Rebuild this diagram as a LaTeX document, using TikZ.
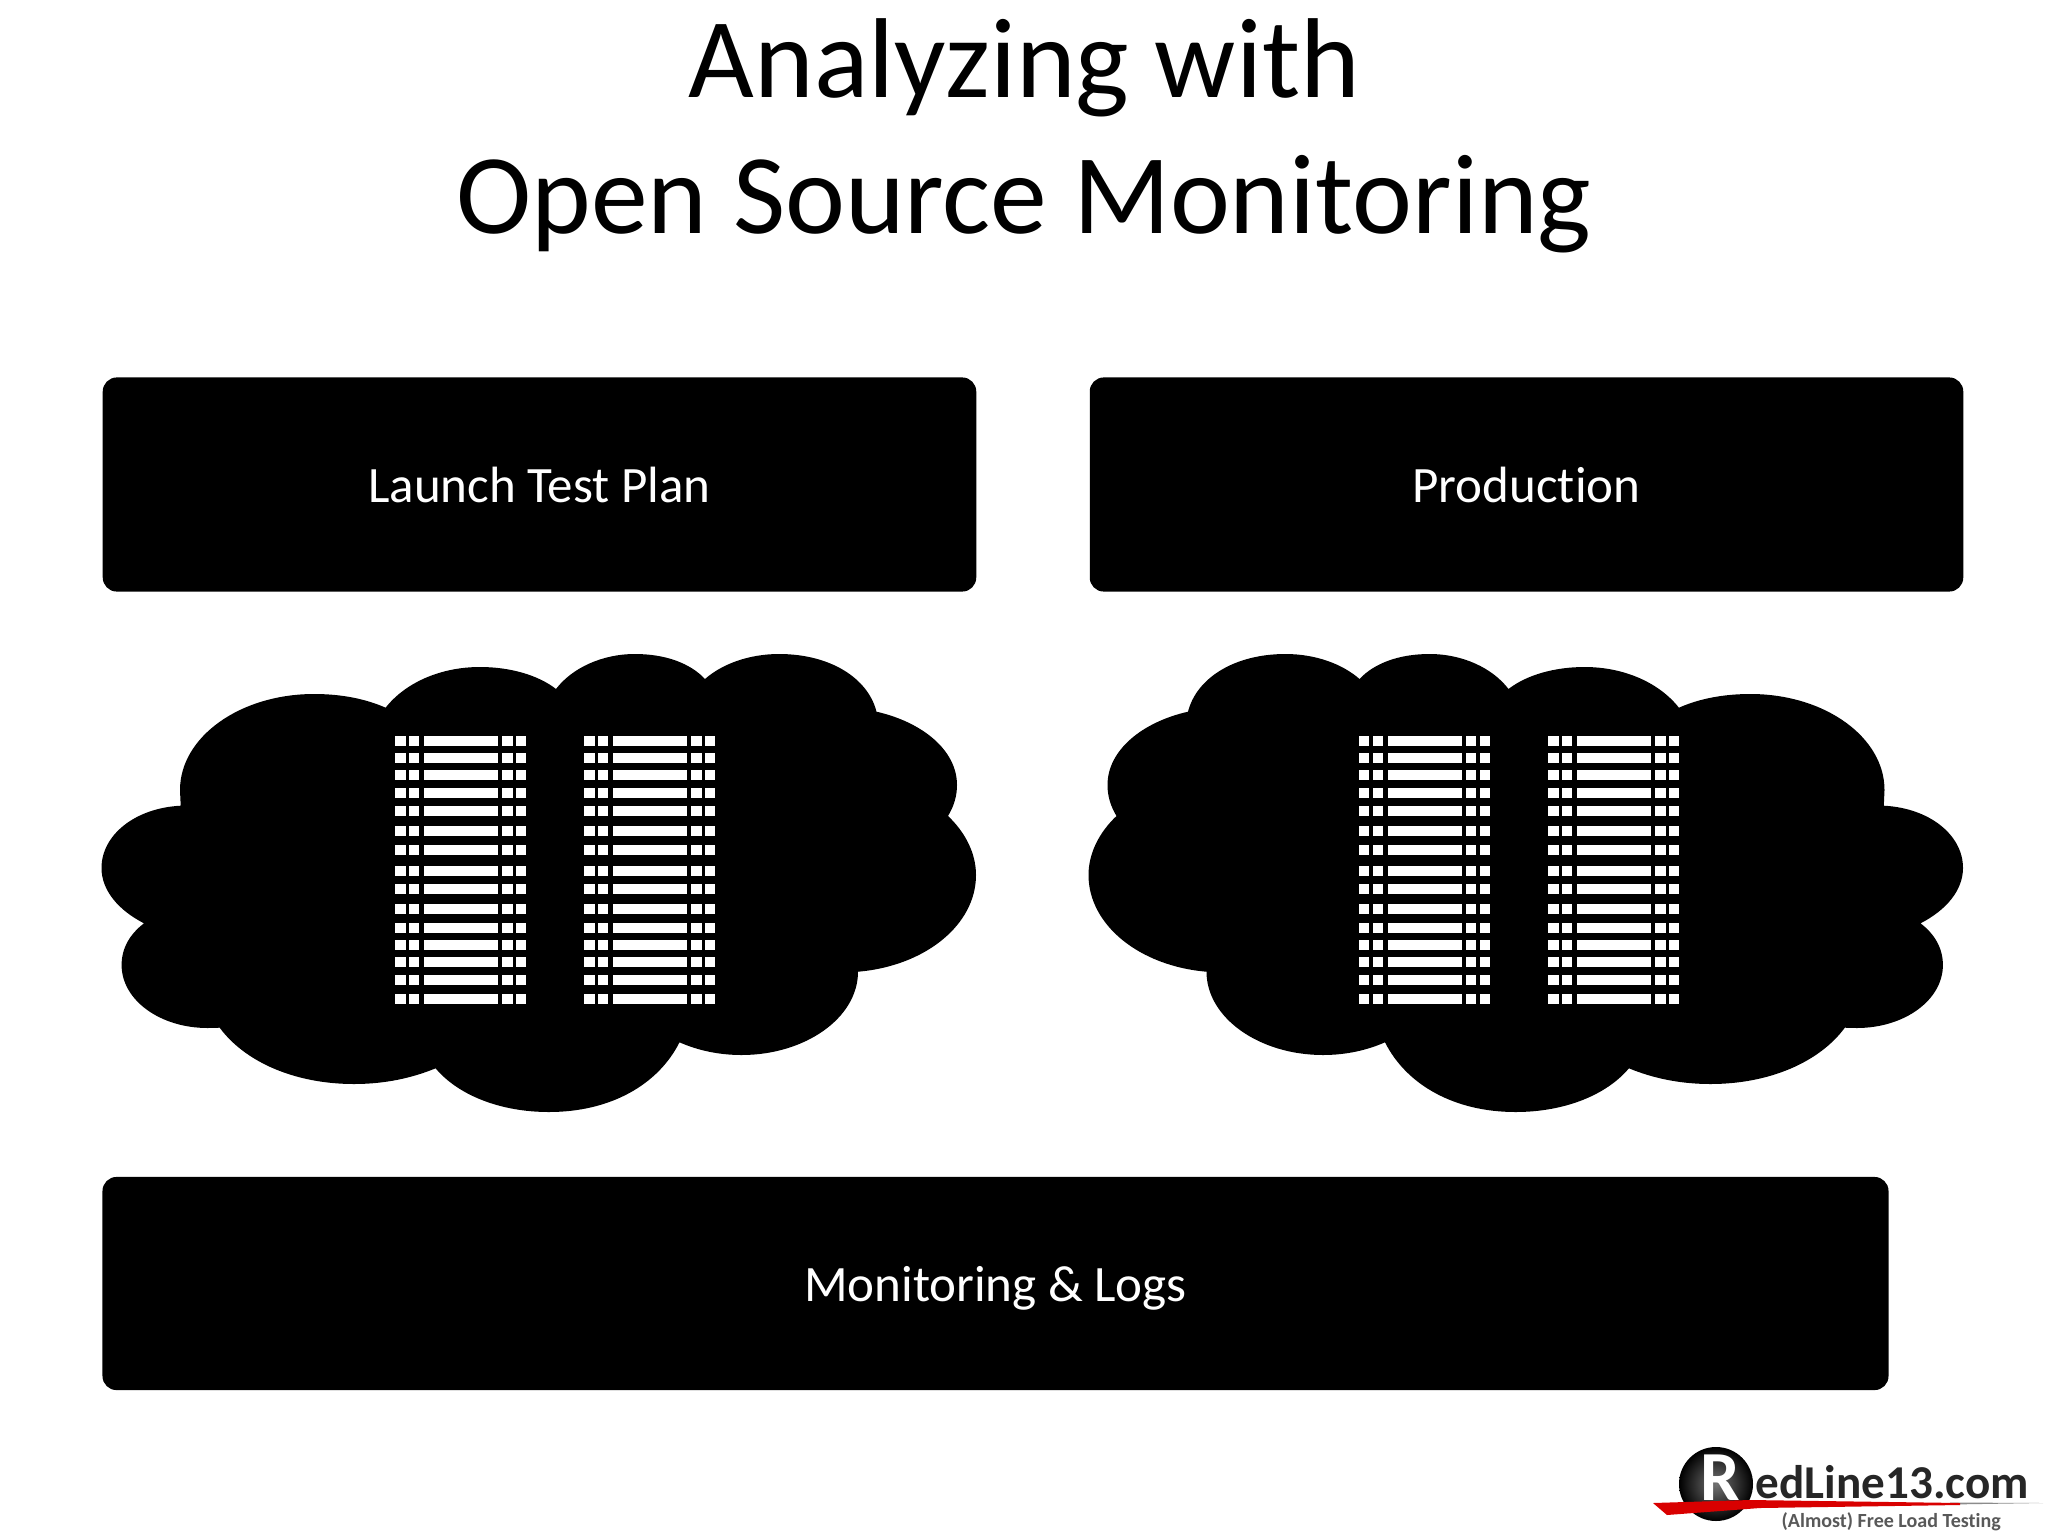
\documentclass[tikz,border=0pt]{standalone}
\usepackage{fontspec}
\setmainfont[Ligatures=NoCommon]{Carlito}
\newcommand{\cloudshape}{%
  \fill[black] (180.7,805.7) -- (180,790)
   .. controls (180,737) and (240,694) .. (314,694)
   .. controls (342,694) and (366,699) .. (385.6,707.7)
   .. controls (405,683) and (440,667) .. (480,667)
   .. controls (510,667) and (538,675) .. (556,689)
   .. controls (572,668) and (602,654) .. (635,654)
   .. controls (665,654) and (690,663) .. (705,679)
   .. controls (722,664) and (749,654) .. (779,654)
   .. controls (830,654) and (868,678) .. (876.5,711.7)
   .. controls (922,722) and (957,750) .. (957,785)
   .. controls (957,796) and (954,806) .. (948,816)
   .. controls (965,832) and (976,853) .. (976,875)
   .. controls (976,925) and (925,966) .. (858,971.7)
   .. controls (858,1018) and (805,1055) .. (741.5,1055)
   .. controls (718,1055) and (697,1050) .. (679.5,1042.3)
   .. controls (658,1085) and (610,1112) .. (549,1112)
   .. controls (500,1112) and (458,1095) .. (435.6,1068.3)
   .. controls (412,1078) and (385,1084) .. (354,1084)
   .. controls (295,1084) and (245,1062) .. (219.7,1027.7)
   -- (207.7,1028)
   .. controls (160,1028) and (121.6,1000) .. (121.6,965)
   .. controls (121.6,948) and (130,934) .. (144,923.3)
   .. controls (118,910) and (101.5,890) .. (101.5,868)
   .. controls (101.5,835) and (135,808) .. (180.7,805.7) -- cycle;}
\newcommand{\serverrack}[1]{%
  \begin{scope}[shift={(#1,0)}]
  \foreach \yy in {741.3,757.7,774.7,792.7,811.3,830.7,850.3,870.7,889.3,909,928.3,944.7,961.7,980,998.7}{
    \foreach \xa/\xb in {0/10.4,13.5/23.7,28.9/102.7,106.9/117.2,120.5/130.7}{
      \fill[white] (\xa,\yy-5) rectangle (\xb,\yy+5);
    }
  }
  \end{scope}}
\tikzset{
  panel/.style={fill=black,text=white,rounded corners=0.14cm,inner sep=0pt,text depth=0pt,font=\fontsize{14.5}{18}\selectfont},
  titletext/.style={text=black,inner sep=0pt,anchor=base,font=\fontsize{32.3}{40}\selectfont}
}
\begin{document}
\begin{tikzpicture}[x=0.01cm,y=-0.01cm]
\useasboundingbox (0,0) rectangle (2048,1536);
\fill[white] (0,0) rectangle (2048,1536);
\node[titletext] (t1) at (1024.5,97) {Analyzing with};
\node[titletext] (t2) at (1024,233) {Open Source Monitoring};
\node[panel,minimum width=8.73cm,minimum height=2.14cm] (launch) at (539.5,484.5) {Launch Test Plan};
\node[panel,minimum width=8.73cm,minimum height=2.14cm] (prod) at (1526.5,484.5) {Production};
\node[panel,minimum width=17.85cm,minimum height=2.13cm] (mon) at (995.5,1283.5) {Monitoring \& Logs};
\cloudshape
\begin{scope}[shift={(2064.5,0)},xscale=-1]
\cloudshape
\end{scope}
\serverrack{395.3}
\serverrack{584.3}
\serverrack{1359}
\serverrack{1548.3}
% logo
\shade[inner color=black!55,outer color=black] (1716,1484) circle (37);
\node[text=white,inner sep=0pt,font=\fontsize{20}{20}\selectfont\bfseries] (logoR) at (1720,1478) {R};
\fill[black!45] (1950,1502.5) -- (2043,1503) -- (1950,1504.5) -- cycle;
\fill[red!85!black] (1653,1503) -- (1750,1500) -- (1960,1503) -- (1960,1505) -- (1760,1508) -- (1667,1515) -- cycle;
\node[anchor=base west,inner sep=0pt,text=black!85,font=\fontsize{13.4}{14}\selectfont\bfseries] (logoT) at (1755,1498) {edLine13.com};
\node[anchor=base west,inner sep=0pt,text=black!65,font=\fontsize{5.7}{6}\selectfont\bfseries] (logoS) at (1781,1527) {(Almost) Free Load Testing};
\end{tikzpicture}
\end{document}
